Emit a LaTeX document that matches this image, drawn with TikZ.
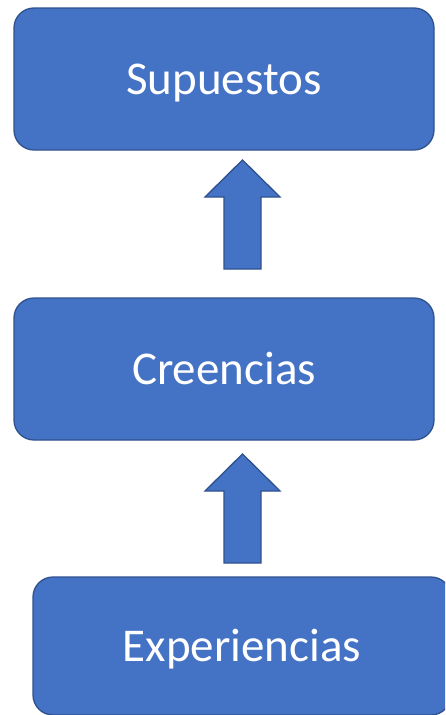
\documentclass[tikz,border=0pt]{standalone}
\usepackage{fontspec}
\setmainfont{Carlito}
\usepackage{tikz}
\definecolor{boxfill}{HTML}{4472C4}
\definecolor{boxline}{HTML}{2F528F}
\tikzset{
  box/.style={draw=boxline, fill=boxfill, line width=1.3pt, rounded corners=20pt,
    text=white, font=\fontsize{47}{52}\selectfont, inner sep=0pt,
    text height=31pt, text depth=0pt},
  uparrow/.style={draw=boxline, fill=boxfill, line width=1.3pt, line join=miter},
}

\begin{document}
\begin{tikzpicture}[x=1pt, y=-1pt]
  \useasboundingbox (0,0) rectangle (445,715);
  \clip (0,0) rectangle (445,715);
  \node[box, minimum width=420pt, minimum height=142pt] (sup) at (224,79) {Supuestos};
  \node[box, minimum width=420pt, minimum height=142pt] (cre) at (224,369) {Creencias};
  \node[box, minimum width=418pt, minimum height=138pt] (exp) at (242,646) {Experiencias};
  % block arrows between the boxes
  \coordinate (a1) at (242.5,269);
  \coordinate (a2) at (242.5,563);
  \foreach \a in {a1,a2}{
    \draw[uparrow] (\a) ++(-18.5,0) -- ++(0,-72) -- ++(-19,0) -- ++(37.5,-37)
      -- ++(37.5,37) -- ++(-19,0) -- ++(0,72) -- cycle;
  }
\end{tikzpicture}
\end{document}
